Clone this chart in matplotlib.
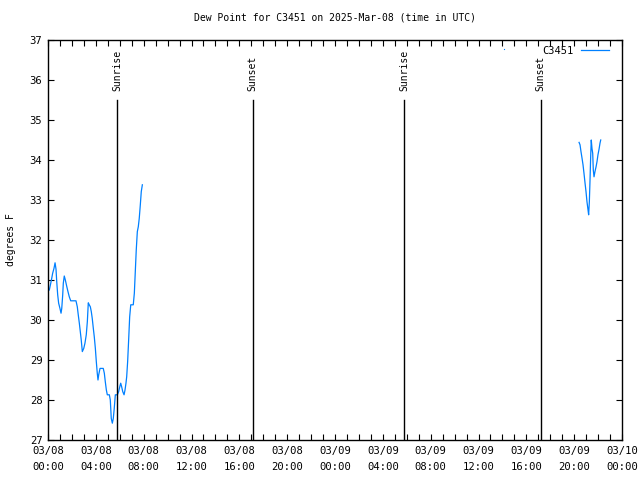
import numpy as np
import pandas as pd
import matplotlib
matplotlib.use("Agg")
import matplotlib.pyplot as plt
import matplotlib.dates as mdates
from matplotlib.ticker import FixedLocator

plt.rcParams['font.family'] = ['DejaVu Sans Mono']
plt.rcParams['font.size'] = 7

start = pd.Timestamp("2025-03-08 00:00")

# hours after 03/08 00:00 UTC, dew point in F (NaN = gap in the record)
hours = [0.11, 0.23, 0.31, 0.39, 0.50, 0.59, 0.67, 0.73, 0.81, 0.89, 1.00, 1.09, 1.15,
         1.23, 1.28, 1.36, 1.45, 1.56, 1.67, 1.78, 1.90, 2.34, 2.45, 2.53, 2.62, 2.70,
         2.78, 2.87, 2.99, 3.09, 3.20, 3.29, 3.37, 3.45, 3.54, 3.62, 3.70, 3.79, 3.87,
         3.96, 4.04, 4.12, 4.18, 4.24, 4.35, 4.62, 4.71, 4.79, 4.88, 4.96, 5.13, 5.21,
         5.29, 5.38, 5.46, 5.54, 5.63, 5.80, 5.91, 6.00, 6.08, 6.16, 6.25, 6.36, 6.44,
         6.52, 6.58, 6.66, 6.75, 6.83, 6.92, 7.13, 7.22, 7.30, 7.38, 7.47, 7.55, 7.63,
         7.72, 7.80, 7.89,
         20.0,
         44.41, 44.49, 44.57, 44.66, 44.74, 44.82, 44.91, 44.99, 45.07, 45.16, 45.21,
         45.27, 45.33, 45.38, 45.43, 45.49, 45.55, 45.60, 45.66, 45.74, 45.83, 45.91,
         45.99, 46.08, 46.16, 46.22]
dewpt = [30.75, 30.92, 31.04, 31.17, 31.29, 31.43, 31.27, 30.96, 30.63, 30.42, 30.29, 30.17, 30.29,
         30.63, 30.92, 31.10, 31.00, 30.85, 30.71, 30.58, 30.48, 30.48, 30.33, 30.13, 29.92, 29.71,
         29.50, 29.21, 29.29, 29.42, 29.63, 29.96, 30.43, 30.38, 30.33, 30.21, 30.04, 29.79, 29.58,
         29.29, 28.96, 28.67, 28.50, 28.63, 28.79, 28.79, 28.67, 28.46, 28.25, 28.13, 28.13, 28.00,
         27.54, 27.42, 27.54, 27.79, 28.13, 28.13, 28.21, 28.33, 28.42, 28.33, 28.21, 28.13, 28.25,
         28.42, 28.58, 28.96, 29.54, 30.08, 30.38, 30.38, 30.67, 31.21, 31.75, 32.21, 32.33, 32.54,
         32.88, 33.21, 33.38,
         np.nan,
         34.44, 34.38, 34.21, 34.04, 33.88, 33.67, 33.42, 33.21, 32.96, 32.75, 32.63,
         32.96, 33.54, 34.08, 34.50, 34.29, 34.17, 33.75, 33.58, 33.71, 33.83, 33.96,
         34.13, 34.27, 34.42, 34.50]

# lone reading
single_hour = [38.13]
single_dewpt = [36.78]

sun_hours = [5.78, 17.13, 29.77, 41.2]
sun_labels = ["Sunrise", "Sunset", "Sunrise", "Sunset"]

xtick_labels = ["03/08\n00:00", "03/08\n04:00", "03/08\n08:00", "03/08\n12:00",
                "03/08\n16:00", "03/08\n20:00", "03/09\n00:00", "03/09\n04:00",
                "03/09\n08:00", "03/09\n12:00", "03/09\n16:00", "03/09\n20:00",
                "03/10\n00:00"]

times = [start + pd.Timedelta(hours=h) for h in hours]
stimes = [start + pd.Timedelta(hours=h) for h in single_hour]
suntimes = [start + pd.Timedelta(hours=h) for h in sun_hours]

fig = plt.figure(figsize=(6.4, 4.8), dpi=100)
ax = fig.add_axes([48/640, 1 - 440/480, 574/640, 400/480])

line_color = '#0080ff'
ax.plot(times, dewpt, color=line_color, lw=0.9, label="C3451")
ax.plot(stimes, single_dewpt, linestyle='none', marker='s', ms=0.8,
        color=line_color, mec='none')

for t, lab in zip(suntimes, sun_labels):
    ax.plot([t, t], [27, 35.5], color='black', lw=1.0)
    ax.text(t, 35.72, lab, rotation=90, ha='center', va='bottom', fontsize=7)

ax.set_xlim(start, start + pd.Timedelta(hours=48))
ax.set_ylim(27, 37)

major = [mdates.date2num(start + pd.Timedelta(hours=4 * i)) for i in range(13)]
minor = [mdates.date2num(start + pd.Timedelta(hours=i)) for i in range(49)]
ax.xaxis.set_major_locator(FixedLocator(major))
ax.xaxis.set_minor_locator(FixedLocator(minor))
ax.set_xticklabels(xtick_labels, linespacing=1.75, fontsize=7.6)
ax.set_yticks(range(27, 38))

ax.tick_params(which='both', direction='in', top=True, right=True, length=4,
               width=0.8, pad=4, labelsize=7.6)
for s in ax.spines.values():
    s.set_linewidth(1.0)

ax.set_ylabel("degrees F", fontsize=7, labelpad=10)
ax.set_title("Dew Point for C3451 on 2025-Mar-08 (time in UTC)", fontsize=7, pad=14)

ax.legend(loc='upper right', bbox_to_anchor=(0.984, 0.996), frameon=False,
          markerfirst=False, handlelength=2.7, handletextpad=0.7,
          borderaxespad=0.0, fontsize=7.5)

fig.savefig("out.png", dpi=100)
